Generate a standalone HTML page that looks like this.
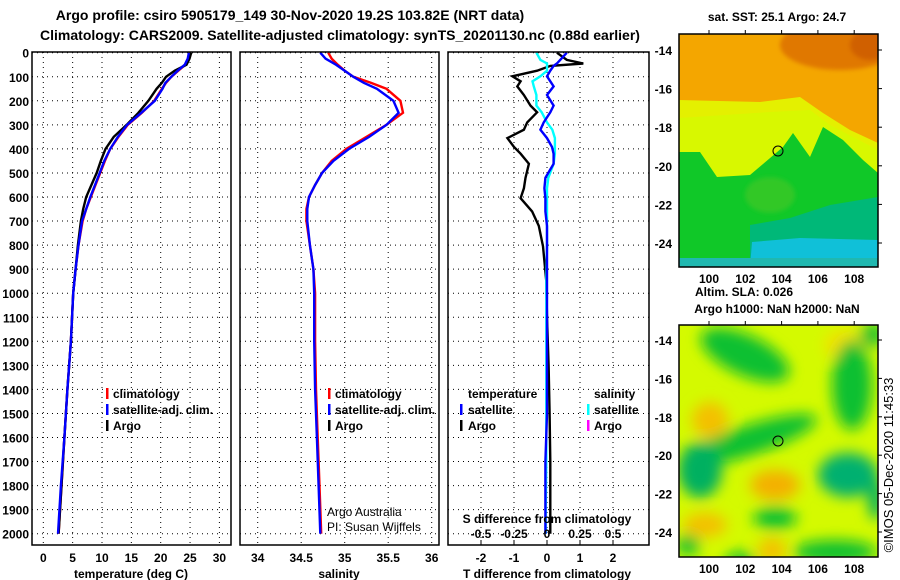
<!DOCTYPE html>
<html><head><meta charset="utf-8"><style>
body{margin:0;background:#fff;}
svg{display:block;font-family:"Liberation Sans",sans-serif;}
.t{font-weight:bold;font-size:12px;fill:#000}
.ttl{font-weight:bold;font-size:14px;fill:#000}
.grid{stroke:#000;stroke-width:1;stroke-dasharray:1,4}
</style></head><body>
<svg id="chart" width="900" height="580" viewBox="0 0 900 580">
<defs>
<clipPath id="cm1"><rect x="679" y="34" width="199" height="233"/></clipPath>
<clipPath id="cm2"><rect x="679" y="325" width="199" height="232"/></clipPath>
<clipPath id="cp1"><rect x="32" y="52" width="199" height="493"/></clipPath>
<clipPath id="cp2"><rect x="240" y="52" width="199" height="493"/></clipPath>
<clipPath id="cp3"><rect x="448" y="52" width="201" height="493"/></clipPath>
<filter id="bl" x="-20%" y="-20%" width="140%" height="140%"><feGaussianBlur stdDeviation="7"/></filter>
<filter id="bl2"><feGaussianBlur stdDeviation="2"/></filter>
</defs>
<text class="ttl" x="290" y="20" text-anchor="middle">Argo profile: csiro 5905179_149 30-Nov-2020 19.2S 103.82E (NRT data)</text>
<text class="ttl" x="340" y="40" text-anchor="middle">Climatology: CARS2009. Satellite-adjusted climatology: synTS_20201130.nc (0.88d earlier)</text>

<g id="grids"></g>
<g id="series"></g>
<g id="frames"></g>
<g id="labels"></g>

<g>
<rect x="106" y="388" width="2.5" height="11" fill="#f00"/><text class="t" x="113" y="398">climatology</text>
<rect x="106" y="404" width="2.5" height="11" fill="#00f"/><text class="t" x="113" y="414">satellite-adj. clim.</text>
<rect x="106" y="420" width="2.5" height="11" fill="#000"/><text class="t" x="113" y="430">Argo</text>
</g>
<g>
<rect x="328" y="388" width="2.5" height="11" fill="#f00"/><text class="t" x="335" y="398">climatology</text>
<rect x="328" y="404" width="2.5" height="11" fill="#00f"/><text class="t" x="335" y="414">satellite-adj. clim.</text>
<rect x="328" y="420" width="2.5" height="11" fill="#000"/><text class="t" x="335" y="430">Argo</text>
<text x="327" y="516" font-size="12" fill="#000">Argo Australia</text>
<text x="327" y="531" font-size="12" fill="#000">PI: Susan Wijffels</text>
</g>
<g>
<text class="t" x="468" y="398">temperature</text>
<rect x="460" y="404" width="2.5" height="11" fill="#00f"/><text class="t" x="468" y="414">satellite</text>
<rect x="460" y="420" width="2.5" height="11" fill="#000"/><text class="t" x="468" y="430">Argo</text>
<text class="t" x="594" y="398">salinity</text>
<rect x="587" y="404" width="2.5" height="11" fill="#0ff"/><text class="t" x="594" y="414">satellite</text>
<rect x="587" y="420" width="2.5" height="11" fill="#f0f"/><text class="t" x="594" y="430">Argo</text>
<text class="t" x="547" y="523" text-anchor="middle">S difference from climatology</text>
</g>

<g>
<text class="t" x="777" y="21" text-anchor="middle">sat. SST: 25.1 Argo: 24.7</text>
<g clip-path="url(#cm1)">
<rect x="679" y="34" width="199" height="233" fill="#f4a600"/>
<ellipse cx="840" cy="45" rx="60" ry="25" fill="#e07800" filter="url(#bl2)"/>
<ellipse cx="870" cy="45" rx="20" ry="15" fill="#d06000" filter="url(#bl2)"/>
<path d="M679,100 L760,102 L800,97 L823,113 L850,130 L878,143 L878,267 L679,267Z" fill="#e4f000"/>
<path d="M679,118 L770,112 L810,110 L830,125 L878,150 L878,267 L679,267Z" fill="#d8f800"/>
<path d="M679,152 L700,152 L717,177 L750,175 L783,147 L793,133 L810,157 L823,127 L843,140 L863,160 L878,173 L878,267 L679,267Z" fill="#10c828"/>
<ellipse cx="770" cy="195" rx="25" ry="18" fill="#30c828" filter="url(#bl2)"/>
<path d="M750,267 L750,225 L790,218 L830,205 L878,197 L878,267Z" fill="#00b878"/>
<path d="M750,267 L752,242 L800,238 L878,240 L878,267Z" fill="#10c0d8"/>
<rect x="679" y="258" width="200" height="9" fill="#20b8b0"/>
</g>
<rect x="679" y="34" width="199" height="233" fill="none" stroke="#000" stroke-width="1.5"/>
<circle cx="778" cy="151" r="5" fill="none" stroke="#000"/>
</g>
<text class="t" x="744" y="296" text-anchor="middle">Altim. SLA: 0.026</text>
<text class="t" x="777" y="313" text-anchor="middle">Argo h1000: NaN h2000: NaN</text>
<g>
<g clip-path="url(#cm2)">
<rect x="679" y="325" width="199" height="232" fill="#d4fa00"/>
<g filter="url(#bl)">
<ellipse cx="845" cy="345" rx="20" ry="15" fill="#f4e000"/>
<ellipse cx="710" cy="420" rx="18" ry="18" fill="#f4c000"/>
<ellipse cx="775" cy="485" rx="25" ry="15" fill="#f4b000"/>
<ellipse cx="705" cy="525" rx="22" ry="12" fill="#f4c000"/>
<ellipse cx="772" cy="550" rx="14" ry="12" fill="#f4c000"/>
<ellipse cx="745" cy="355" rx="48" ry="20" fill="#10c030" transform="rotate(25 745 355)"/>
<ellipse cx="852" cy="385" rx="20" ry="45" fill="#10c030"/>
<ellipse cx="872" cy="335" rx="12" ry="12" fill="#10c030"/>
<ellipse cx="750" cy="440" rx="70" ry="15" fill="#10c030" transform="rotate(-18 750 440)"/>
<ellipse cx="700" cy="470" rx="22" ry="28" fill="#00b060"/>
<ellipse cx="848" cy="475" rx="30" ry="22" fill="#00b070"/>
<ellipse cx="775" cy="518" rx="22" ry="11" fill="#10c030"/>
<ellipse cx="835" cy="552" rx="42" ry="12" fill="#10c030"/>
<ellipse cx="688" cy="545" rx="12" ry="10" fill="#10c030"/>
<ellipse cx="740" cy="560" rx="15" ry="8" fill="#10c030"/>
<ellipse cx="876" cy="500" rx="8" ry="20" fill="#00b060"/>
</g>
</g>
<rect x="679" y="325" width="199" height="232" fill="none" stroke="#000" stroke-width="1.5"/>
<circle cx="778" cy="441" r="5" fill="none" stroke="#000"/>
</g>
<text x="893" y="465" font-size="13" fill="#000" text-anchor="middle" transform="rotate(-90 893 465)">©IMOS 05-Dec-2020 11:45:33</text>
<g id="maplabels"></g>

<script>
// ---- data ----
const depthTicks=[0,100,200,300,400,500,600,700,800,900,1000,1100,1200,1300,1400,1500,1600,1700,1800,1900,2000];
const tempTicks=[0,5,10,15,20,25,30];
const salTicks=[34,34.5,35,35.5,36];
const salTickLabels=["34","34.5","35","35.5","36"];
const tdTicks=[-2,-1,0,1,2];
const sdTicks=[-0.5,-0.25,0,0.25,0.5];
const sdTickLabels=["-0.5","-0.25","0","0.25","0.5"];
const profDepth=[0,25,50,75,100,125,150,200,250,300,350,400,450,500,550,600,650,700,800,900,1000,1200,1400,1600,1800,2000];
const tClim=[25,24.8,24.2,23,21.8,20.9,20.2,18.9,16.8,14.4,12.8,11.4,10.5,9.7,8.9,8.1,7.3,6.7,6.0,5.5,5.1,4.7,4.1,3.6,3.1,2.6];
const tSat =[24.8,24.6,24.1,22.9,21.8,20.8,20.3,19.0,16.7,14.3,12.7,11.4,10.4,9.6,8.8,8.0,7.3,6.6,6.0,5.5,5.1,4.7,4.1,3.6,3.0,2.5];
const tArgo=[25.2,24.9,24.4,22.4,20.9,20.2,19.3,17.9,16.2,14.2,12.0,10.6,9.8,9.1,8.2,7.3,6.8,6.4,5.9,5.5,5.1,4.7,4.1,3.6,3.1,2.6];
const sClim=[34.81,34.85,34.92,35.0,35.1,35.3,35.48,35.64,35.67,35.48,35.25,35.02,34.85,34.74,34.66,34.59,34.56,34.56,34.6,34.64,34.66,34.66,34.67,34.69,34.71,34.73];
const sSat =[34.72,34.78,34.9,35.0,35.1,35.22,35.37,35.56,35.62,35.48,35.28,35.05,34.87,34.74,34.66,34.59,34.57,34.57,34.6,34.64,34.65,34.65,34.66,34.68,34.7,34.72];
const diffDepth=[0,30,45,55,75,98,119,140,176,220,248,290,320,355,392,420,462,520,564,605,660,720,805,950,1100,1300,1500,1700,1900,2000];
const tdArgo=[0.3,0.6,1.1,0.1,-0.3,-1.05,-0.8,-0.9,-0.7,-0.5,-0.3,-0.6,-0.7,-1.2,-1.0,-0.8,-0.55,-0.65,-0.7,-0.8,-0.45,-0.25,-0.12,-0.02,0,0.05,0.08,0.1,0.1,0.1];
const tdSat=[0.6,0.4,0.3,0.2,0.1,0,0.1,0.2,0,0.2,0.1,-0.1,-0.2,0,0.15,0.2,0.2,-0.05,-0.08,-0.05,-0.05,0,0,0,0,0,0,-0.05,-0.05,-0.05];
const sdSat=[-0.08,-0.05,0,0,0,-0.05,-0.11,-0.1,-0.08,-0.08,-0.04,0,0.04,0.06,0.06,0.06,0.05,0.01,0,0,0,0,0,-0.005,-0.005,-0.005,-0.005,-0.005,-0.01,-0.01];
const lonTicks=[100,102,104,106,108];
const latTicks=[-14,-16,-18,-20,-22,-24];

// ---- axes ----
const NS="http://www.w3.org/2000/svg";
const yD=d=>52.7+d*0.2405;
const xT=t=>43.3+t*5.87;
const xS=s=>257.7+(s-34)*87;
const xTD=v=>547+v*33;
const xSD=v=>547+v*132;
const lonX=l=>709+(l-100)*18.15;
const latY1=l=>50+(-14-l)*19.3;
const latY2=l=>340+(-14-l)*19.2;
const panels=[[32,231,tempTicks,xT,"temperature"],[240,439,salTicks,xS,"salinity"],[448,649,tdTicks,xTD,"difference"]];

function mk(tag,attrs,parent){const e=document.createElementNS(NS,tag);for(const k in attrs)e.setAttribute(k,attrs[k]);parent.appendChild(e);return e;}
const G=document.getElementById('grids'),S=document.getElementById('series'),F=document.getElementById('frames'),L=document.getElementById('labels'),ML=document.getElementById('maplabels');

panels.forEach((p,pi)=>{
  const [x0,x1,ticks,fx,nm]=p;
  depthTicks.forEach(d=>{const l=mk('line',{x1:x0,x2:x1,y1:yD(d),y2:yD(d),class:'grid'},G);
    
    });
  ticks.forEach(t=>{const l=mk('line',{x1:fx(t),x2:fx(t),y1:52,y2:545,class:'grid'},G);
    
    });
  if(pi===2){sdTicks.forEach(t=>{const l=mk('line',{x1:xSD(t),x2:xSD(t),y1:540,y2:545,stroke:'#000'},G);
    
    });}
  const r=mk('rect',{x:x0,y:52,width:x1-x0,height:493,fill:'none',stroke:'#000','stroke-width':1.5},F);
  
  
});
depthTicks.forEach(d=>{const t=mk('text',{x:29,y:yD(d)+5,class:'t','text-anchor':'end'},L);t.textContent=d;
  
  });
tempTicks.forEach(v=>{const t=mk('text',{x:xT(v),y:562,class:'t','text-anchor':'middle'},L);t.textContent=v;
  
  });
salTicks.forEach((v,i)=>{const t=mk('text',{x:xS(v),y:562,class:'t','text-anchor':'middle'},L);t.textContent=salTickLabels[i];
  
  });
tdTicks.forEach(v=>{const t=mk('text',{x:xTD(v),y:562,class:'t','text-anchor':'middle'},L);t.textContent=v;
  
  });
sdTicks.forEach((v,i)=>{const t=mk('text',{x:xSD(v),y:538,class:'t','text-anchor':'middle'},L);t.textContent=sdTickLabels[i];
  
  });
[[131,"temperature (deg C)","temperature-axis-title"],[339,"salinity","salinity-axis-title"],[547,"T difference from climatology","t-diff-axis-title"]].forEach(a=>{
  const t=mk('text',{x:a[0],y:578,class:'t','text-anchor':'middle'},L);t.textContent=a[1];
  
  });

function line(vals,depths,fx,color,clip,name){
  const pts=vals.map((v,i)=>fx(v).toFixed(1)+","+yD(depths[i]).toFixed(1)).join(" ");
  const pl=mk('polyline',{points:pts,fill:'none',stroke:color,'stroke-width':2.4,'clip-path':'url(#'+clip+')'},S);
  
  
}
line(tClim,profDepth,xT,'#f00','cp1','temperature-climatology-line');
line(tArgo,profDepth,xT,'#000','cp1','temperature-argo-line');
line(tSat,profDepth,xT,'#00f','cp1','temperature-satellite-line');
line(sClim,profDepth,xS,'#f00','cp2','salinity-climatology-line');
line(sSat,profDepth,xS,'#00f','cp2','salinity-satellite-line');
line(tdArgo,diffDepth,xTD,'#000','cp3','t-diff-argo-line');
line(sdSat,diffDepth,xSD,'#0ff','cp3','s-diff-satellite-line');
line(tdSat,diffDepth,xTD,'#00f','cp3','t-diff-satellite-line');

[[267,latY1,34],[557,latY2,325]].forEach((m,mi)=>{
  const [yb,fy,yt]=m;
  lonTicks.forEach(l=>{
    mk('line',{x1:lonX(l),x2:lonX(l),y1:yt,y2:yt-4,stroke:'#000'},ML);
    const t=mk('text',{x:lonX(l),y:yb+16,class:'t','text-anchor':'middle'},ML);t.textContent=l;
    
    });
  latTicks.forEach(l=>{
    mk('line',{x1:878,x2:882,y1:fy(l),y2:fy(l),stroke:'#000'},ML);
    const t=mk('text',{x:672,y:fy(l)+5,class:'t','text-anchor':'end'},ML);t.textContent=l;
    
    });
});
</script>
</svg>
</body></html>
